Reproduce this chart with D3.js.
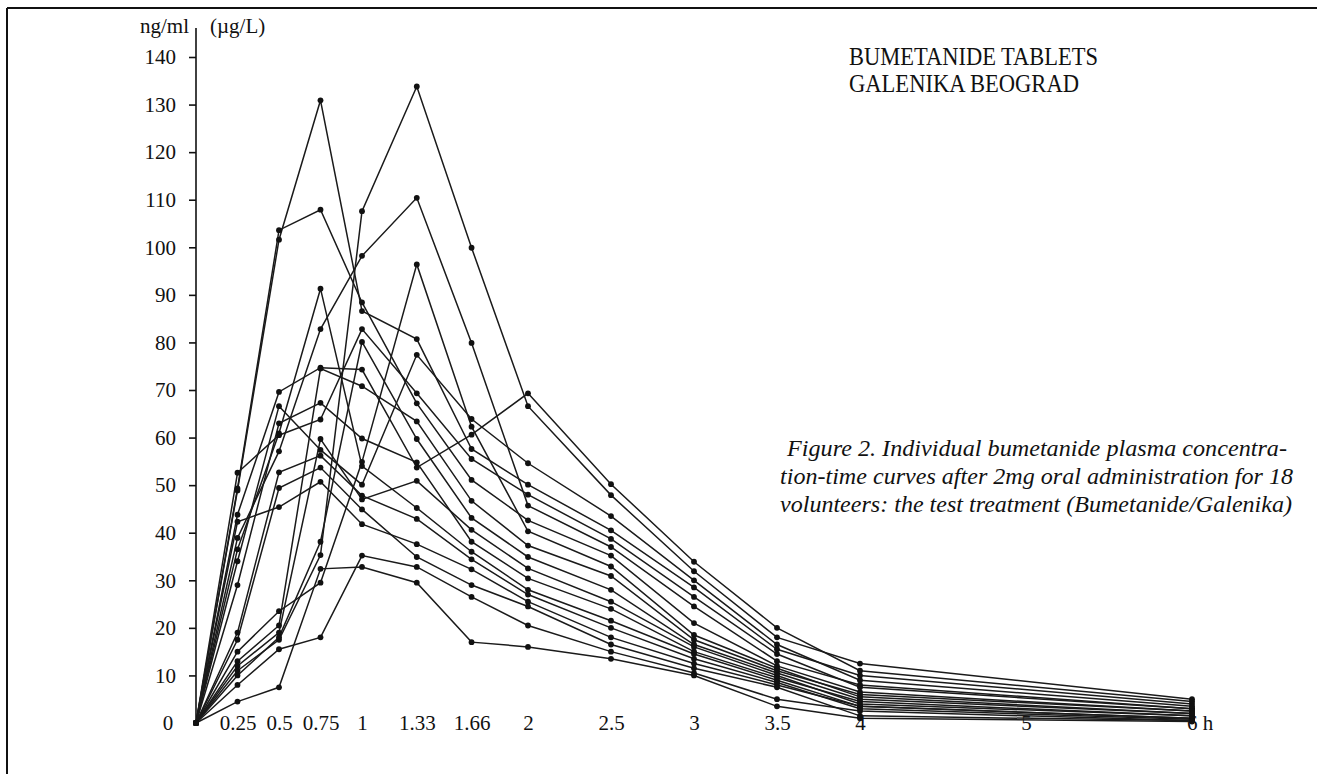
<!DOCTYPE html>
<html>
<head>
<meta charset="utf-8">
<script src="https://cdn.jsdelivr.net/npm/d3@7"></script>
<style>
    body { margin: 0; background: #fff; }
    svg { display: block; }
    text { font-family: "Liberation Serif", "Times New Roman", serif; fill: #111; }
    .axis path, .axis line { stroke: #111; stroke-width: 1.6; }
    .axis text { font-family: "Liberation Serif", "Times New Roman", serif; font-size: 21px; fill: #111; }
    .curve { fill: none; stroke: #1a1a1a; stroke-width: 1.5; }
    .dot { fill: #111; }
</style>
</head>
<body>
<div id="chart"></div>
<script>
// Plasma concentration-time curves, 18 volunteers

var times = [0, 0.25, 0.5, 0.75, 1, 1.33, 1.66, 2, 2.5, 3, 3.5, 4, 6];
var x_ticks = [0.25, 0.5, 0.75, 1, 1.33, 1.66, 2, 2.5, 3, 3.5, 4, 5, 6];
var x_tick_labels = ['0.25', '0.5', '0.75', '1', '1.33', '1.66', '2', '2.5', '3', '3.5', '4', '5', '6 h'];
var y_ticks = [10, 20, 30, 40, 50, 60, 70, 80, 90, 100, 110, 120, 130, 140];

// ng/ml per volunteer, one value per entry in times
var s1 = [0, 49.3, 103.6, 107.9, 88.4, 67.2, 51.1, 42.6, 35.2, 21, 12, 6.5, 2.5];
var s2 = [0, 48.9, 101.6, 130.9, 86.6, 80.7, 57.6, 50.1, 40.5, 28.5, 15.5, 10, 4];
var s3 = [0, 36.5, 60.9, 91.3, 54.0, 45.2, 36.0, 28, 21.5, 14.5, 9, 3.5, 1];
var s4 = [0, 38.9, 57.1, 82.8, 98.2, 110.4, 79.9, 45.7, 37.0, 24.5, 13, 8, 3];
var s5 = [0, 11, 17.5, 35.3, 107.6, 133.8, 99.9, 66.6, 47.9, 31.9, 18, 12.5, 5];
var s6 = [0, 15, 23.5, 29.5, 54.9, 96.4, 62.3, 40.3, 32.9, 18.5, 11.5, 5.5, 2];
var s7 = [0, 52.6, 60.5, 63.8, 82.8, 69.3, 55.5, 48.0, 38.7, 26.5, 14.5, 7.5, 3];
var s8 = [0, 42.3, 45.4, 50.7, 41.8, 37.6, 32.3, 25.5, 18, 12.5, 8, 3.5, 1];
var s9 = [0, 43.8, 69.6, 74.7, 74.3, 53.7, 60.6, 69.3, 50.2, 33.9, 20, 11, 4.5];
var s10 = [0, 34.0, 66.6, 57.4, 50.1, 77.4, 63.9, 54.6, 43.5, 30, 16.5, 9, 3.5];
var s11 = [0, 29, 63, 67.3, 59.8, 54.8, 38.1, 30.4, 24, 15, 9.5, 4.5, 1.5];
var s12 = [0, 19, 52.7, 56.2, 47.8, 42.9, 34.4, 27, 20, 13.5, 8.5, 3, 0.8];
var s13 = [0, 17.5, 49.4, 53.7, 44.9, 34.9, 29, 24.5, 16.5, 11.5, 7.5, 1.5, 0.5];
var s14 = [0, 13, 20.5, 74.5, 70.8, 63.4, 46.7, 37.3, 30.9, 17.5, 11, 6, 2.5];
var s15 = [0, 12, 19, 59.7, 47, 50.9, 40.6, 32.5, 25.5, 16, 10, 4, 1.5];
var s16 = [0, 10, 18, 38.1, 80.1, 59.7, 43.1, 34.9, 28, 16.5, 10.5, 5, 2];
var s17 = [0, 8, 15.5, 18, 35.2, 32.8, 26.5, 20.5, 15, 10.5, 5, 2.5, 0.5];
var s18 = [0, 4.5, 7.5, 32.4, 32.8, 29.5, 17, 16, 13.5, 10, 3.5, 1, 0.3];

var volunteers = [s1, s2, s3, s4, s5, s6, s7, s8, s9, s10, s11, s12, s13, s14, s15, s16, s17, s18];

var width = 1317;
var height = 774;

var svg = d3.select('#chart')
    .append('svg')
    .attr('width', width)
    .attr('height', height);

// frame (top and left rule of the page box)
svg.append('line')
    .attr('x1', 7).attr('x2', width)
    .attr('y1', 8).attr('y2', 8)
    .attr('stroke', '#111').attr('stroke-width', 2);
svg.append('line')
    .attr('x1', 7).attr('x2', 7)
    .attr('y1', 8).attr('y2', height)
    .attr('stroke', '#111').attr('stroke-width', 2);

var x_scale = d3.scaleLinear()
    .domain([0, 6])
    .range([196, 1192]);

var y_scale = d3.scaleLinear()
    .domain([0, 140])
    .range([723, 57]);

// Y axis
var y_axis = d3.axisLeft(y_scale)
    .tickValues(y_ticks)
    .tickSize(7)
    .tickPadding(13)
    .tickSizeOuter(0);

var yAxisG = svg.append('g')
    .attr('class', 'y axis')
    .attr('transform', 'translate(' + x_scale(0) + ',0)')
    .call(y_axis);

yAxisG.select('.domain').remove();
yAxisG.append('line')
    .attr('x1', 0).attr('x2', 0)
    .attr('y1', 28).attr('y2', y_scale(0))
    .attr('stroke', '#111')
    .attr('stroke-width', 1.6);

svg.append('text')
    .attr('x', 168)
    .attr('y', y_scale(0) + 7)
    .attr('text-anchor', 'middle')
    .style('font-size', '21px')
    .text('0');

svg.append('text')
    .attr('x', 189)
    .attr('y', 33)
    .attr('text-anchor', 'end')
    .style('font-size', '21px')
    .text('ng/ml');

svg.append('text')
    .attr('x', 210)
    .attr('y', 33)
    .style('font-size', '21px')
    .text('(\u00b5g/L)');

// X axis, labels only
var x_axis = d3.axisBottom(x_scale)
    .tickValues(x_ticks)
    .tickSize(0)
    .tickPadding(3)
    .tickFormat(function(d, i) {
        return x_tick_labels[i];
    });

var xAxisG = svg.append('g')
    .attr('class', 'x axis')
    .attr('transform', 'translate(0,' + 712 + ')')
    .call(x_axis);

xAxisG.select('.domain').remove();
xAxisG.selectAll('text')
    .filter(function(d) { return d === 6; })
    .attr('text-anchor', 'start')
    .attr('x', -5.5);

// curves
var line = d3.line()
    .x(function(d, i) { return x_scale(times[i]); })
    .y(function(d) { return y_scale(d); });

svg.selectAll('.curve')
    .data(volunteers)
    .enter()
    .append('path')
    .attr('class', 'curve')
    .attr('d', line);

var points = [];
volunteers.forEach(function(s) {
    s.forEach(function(v, i) {
        points.push({ t: times[i], v: v });
    });
});

svg.selectAll('.dot')
    .data(points)
    .enter()
    .append('circle')
    .attr('class', 'dot')
    .attr('cx', function(d) { return x_scale(d.t); })
    .attr('cy', function(d) { return y_scale(d.v); })
    .attr('r', 2.9);

// product title
svg.append('text')
    .attr('x', 849)
    .attr('y', 65)
    .attr('textLength', 249)
    .attr('lengthAdjust', 'spacingAndGlyphs')
    .style('font-size', '25px')
    .text('BUMETANIDE TABLETS');
svg.append('text')
    .attr('x', 849)
    .attr('y', 92)
    .attr('textLength', 230)
    .attr('lengthAdjust', 'spacingAndGlyphs')
    .style('font-size', '25px')
    .text('GALENIKA BEOGRAD');

// figure caption
var captionLines = [
    { text: 'Figure 2. Individual bumetanide plasma concentra-', x: 787, w: 500, y: 456 },
    { text: 'tion-time curves after 2mg oral administration for 18', x: 780, w: 513, y: 484 },
    { text: 'volunteers: the test treatment (Bumetanide/Galenika)', x: 780, w: 512, y: 512 }
];

svg.selectAll('.caption')
    .data(captionLines)
    .enter()
    .append('text')
    .attr('class', 'caption')
    .attr('x', function(d) { return d.x; })
    .attr('y', function(d) { return d.y; })
    .attr('textLength', function(d) { return d.w; })
    .attr('lengthAdjust', 'spacingAndGlyphs')
    .style('font-size', '23.5px')
    .style('font-style', 'italic')
    .text(function(d) { return d.text; });
</script>
</body>
</html>
